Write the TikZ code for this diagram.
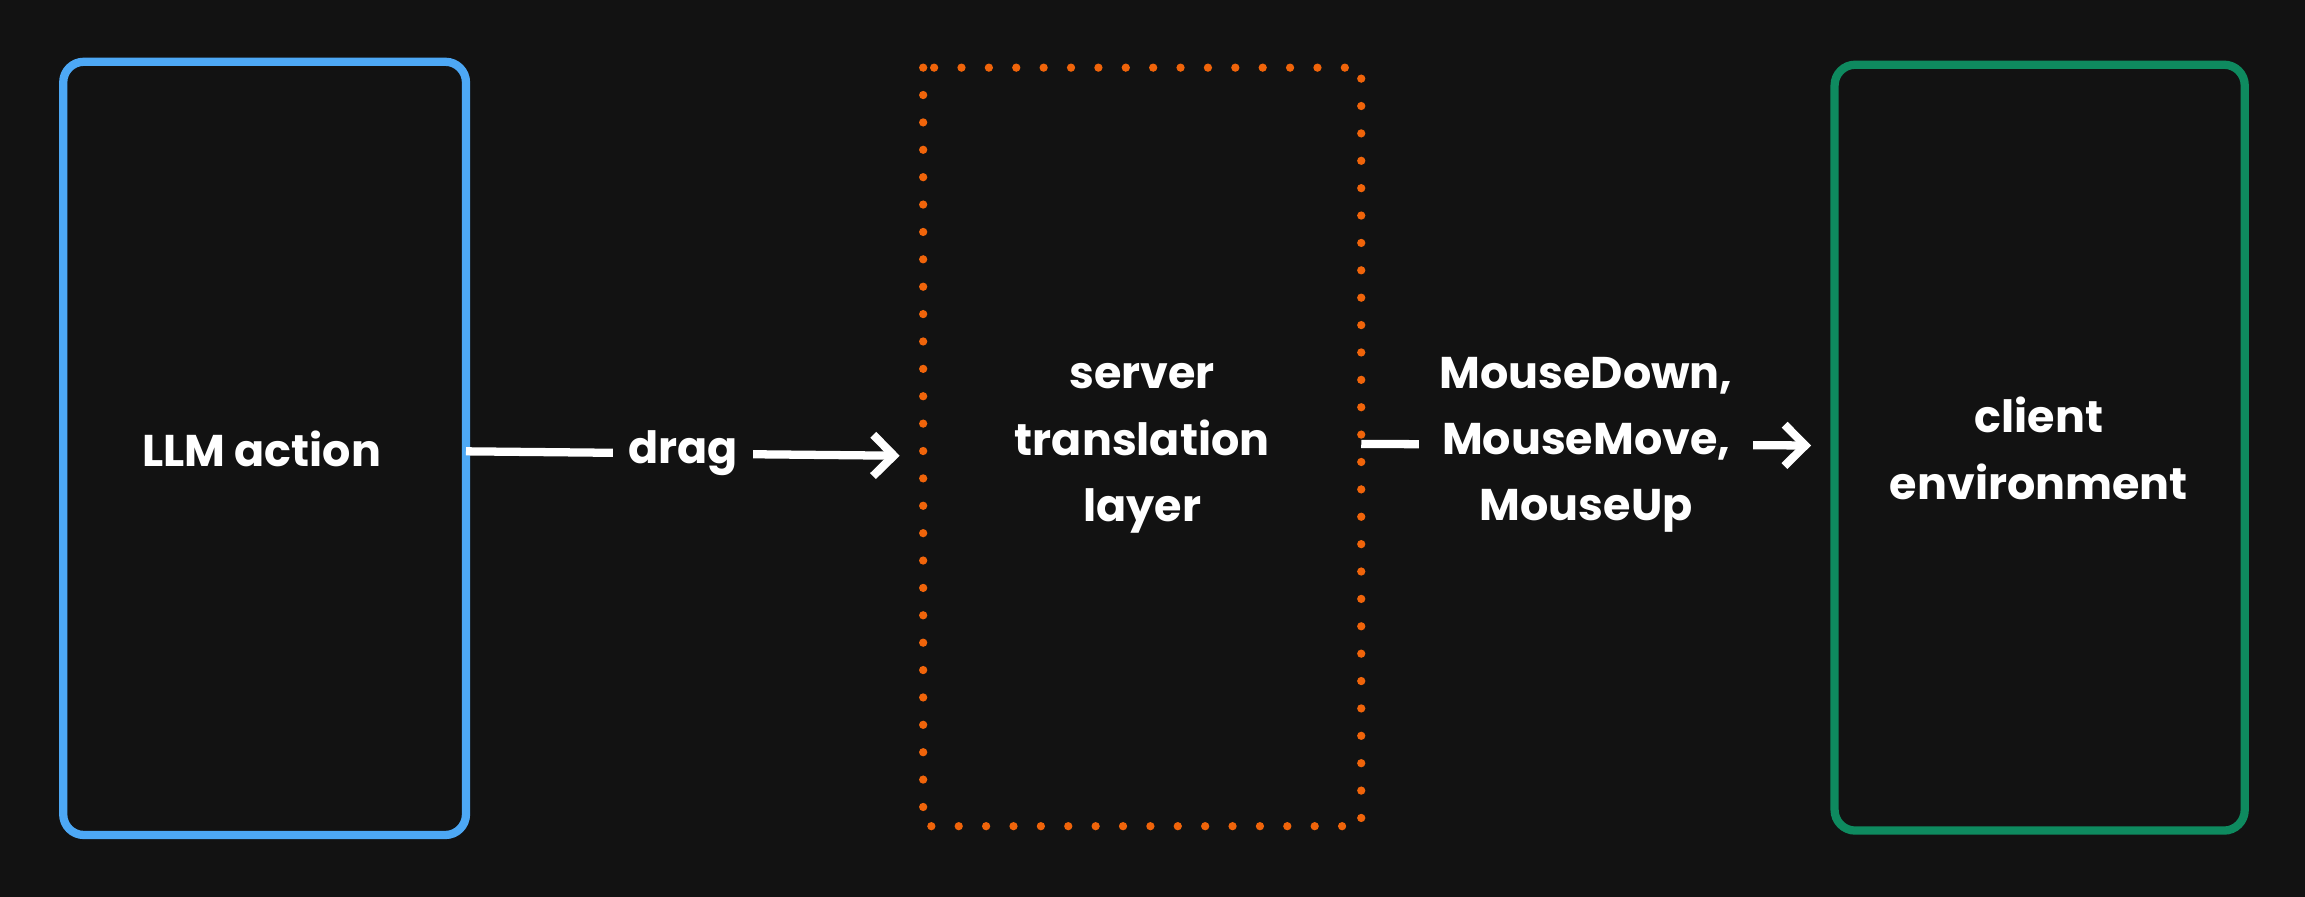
\documentclass[tikz,border=0pt]{standalone}
\usepackage{fontspec}
\setmainfont{Poppins}
\usetikzlibrary{arrows.meta}
\definecolor{bg}{HTML}{121212}
\definecolor{blu}{HTML}{4DA8F5}
\definecolor{org}{HTML}{F0640A}
\definecolor{grn}{HTML}{0E8A5F}
\tikzset{
  box/.style = {draw, rounded corners=4pt, line width=1.6pt},
  lbl/.style = {text=white, font=\fontsize{8.6}{12.8}\selectfont\bfseries, align=center},
  flow/.style = {draw=white, line width=1.6pt, -{Straight Barb[length=4pt,width=8pt]}}
}
\begin{document}
\begin{tikzpicture}[x=0.1mm, y=-0.1mm]
\fill[bg] (0,0) rectangle (1568,610);
\useasboundingbox (0,0) rectangle (1568,610);
\draw[box, blu] (43,42) rectangle (317,568);
\draw[org, line width=1.6pt, dash pattern=on 0pt off 5.3pt, line cap=round] (628,46) rectangle (926,562);
\draw[box, grn] (1248,44) rectangle (1527,565);
\node[lbl] (llm) at (178,305) {LLM action};
\node[lbl] (srv) at (777,305) {server\\translation\\layer};
\node[lbl] (cli) at (1387,305) {client\\environment};
\coordinate (a1) at (317,307);
\coordinate (a2) at (612,310);
\coordinate (b1) at (926,302);
\coordinate (b2) at (1232,303);
\draw[flow] (a1) -- (a2) node[lbl, midway, fill=bg, inner sep=3pt] (drag) {drag};
\draw[flow] (b1) -- (b2) node[lbl, midway, fill=bg, inner sep=4pt] (evt) {MouseDown,\\MouseMove,\\MouseUp};
\end{tikzpicture}
\end{document}
